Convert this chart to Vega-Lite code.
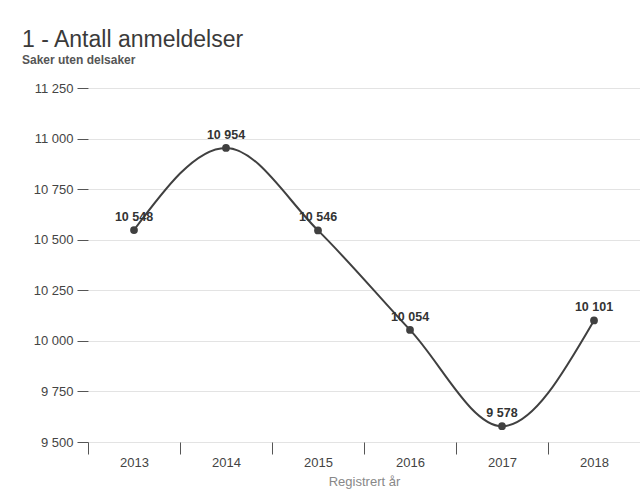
{
  "$schema": "https://vega.github.io/schema/vega-lite/v6.json",
  "width": 552,
  "height": 354,
  "autosize": {"type": "none"},
  "padding": {"left": 88, "top": 88, "right": 0, "bottom": 55},
  "background": "white",
  "title": {
    "text": "1 - Antall anmeldelser",
    "subtitle": "Saker uten delsaker",
    "anchor": "start",
    "frame": "group",
    "dx": -66,
    "offset": 16,
    "font": "Liberation Sans",
    "fontSize": 23,
    "fontWeight": "normal",
    "color": "#3a3a3a",
    "subtitleFont": "Liberation Sans",
    "subtitleFontSize": 12,
    "subtitleFontWeight": "bold",
    "subtitleColor": "#555555",
    "subtitlePadding": 3
  },
  "config": {
    "locale": {"number": {"decimal": ",", "thousands": " ", "grouping": [3], "currency": ["", " kr"]}},
    "view": {"stroke": null},
    "font": "Liberation Sans"
  },
  "data": {
    "values": [
      {"year": "2013", "value": 10548},
      {"year": "2014", "value": 10954},
      {"year": "2015", "value": 10546},
      {"year": "2016", "value": 10054},
      {"year": "2017", "value": 9578},
      {"year": "2018", "value": 10101}
    ]
  },
  "encoding": {
    "x": {
      "field": "year",
      "type": "ordinal",
      "scale": {"paddingInner": 0, "paddingOuter": 0},
      "axis": {
        "title": "Registrert år",
        "titleColor": "#888888",
        "titleFontSize": 13,
        "titleFontWeight": "normal",
        "titlePadding": 6,
        "labelAngle": 0,
        "labelFontSize": 13,
        "labelColor": "#444444",
        "labelPadding": 2,
        "tickBand": "extent",
        "tickSize": 12,
        "tickColor": "#555555",
        "domain": false,
        "grid": false
      }
    },
    "y": {
      "field": "value",
      "type": "quantitative",
      "scale": {"domain": [9500, 11250], "nice": false, "zero": false},
      "axis": {
        "title": null,
        "values": [9500, 9750, 10000, 10250, 10500, 10750, 11000, 11250],
        "format": ",d",
        "labelFontSize": 13,
        "labelColor": "#444444",
        "labelPadding": 4,
        "tickSize": 11,
        "tickColor": "#555555",
        "domain": false,
        "grid": true,
        "gridColor": "#e3e3e3"
      }
    }
  },
  "layer": [
    {"mark": {"type": "line", "interpolate": "monotone", "color": "#404040", "strokeWidth": 2}},
    {"mark": {"type": "point", "filled": true, "color": "#404040", "size": 60, "opacity": 1}},
    {
      "mark": {"type": "text", "dy": -13, "fontSize": 12.5, "fontWeight": "bold", "color": "#333333"},
      "encoding": {"text": {"field": "value", "type": "quantitative", "format": ",d"}}
    }
  ]
}
